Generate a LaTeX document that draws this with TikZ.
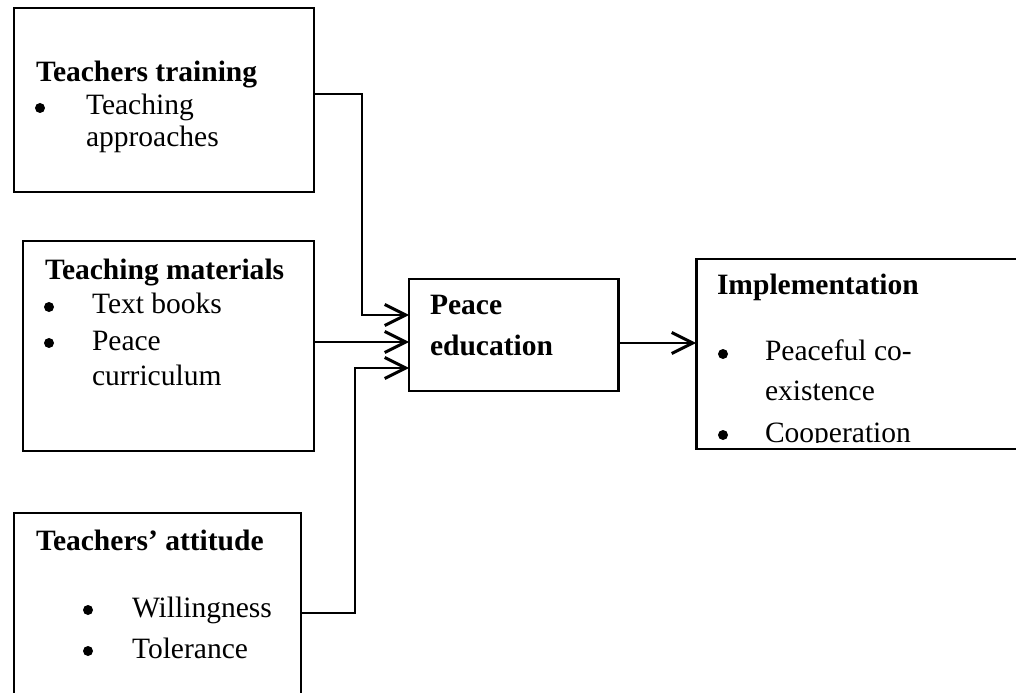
\documentclass[tikz,border=0pt]{standalone}
\usepackage{fontspec}
\setmainfont{Liberation Serif}
\usepackage{tikz}
\usetikzlibrary{arrows.meta, calc}

\tikzset{
    box/.style={draw, line width=0.85pt, inner sep=0pt, outer sep=0pt},
    txt/.style={anchor=base west, inner sep=0pt, outer sep=0pt},
    dot/.style={circle, fill, inner sep=0pt, minimum size=1mm},
    link/.style={line width=0.85pt, -{Straight Barb[length=2.1mm, width=2.1mm, line width=0.85pt]}}
}

\begin{document}
\begin{tikzpicture}[x=1cm, y=-1cm, font=\fontsize{8.4}{9.5}\selectfont]

    \useasboundingbox (0,0) rectangle (10.16,6.93);
    \clip (0,0) rectangle (10.16,6.93);

    % --- Left column of boxes ---
    \node[box, minimum width=3.00cm, minimum height=1.84cm] (train) at (1.64,1.00) {};
    \node[box, minimum width=2.91cm, minimum height=2.10cm] (mater) at (1.685,3.46) {};
    \node[box, minimum width=2.87cm, minimum height=2.20cm] (attit) at (1.575,6.23) {};

    % --- Middle and right boxes ---
    \node[box, minimum width=2.09cm, minimum height=1.12cm] (peace) at (5.135,3.35) {};
    \node[box, minimum width=3.60cm, minimum height=1.90cm] (impl) at (8.76,3.54) {};

    % --- Teachers training ---
    \node[txt] (trainT) at (0.36,0.82) {\textbf{Teachers training}};
    \node[dot] (trainB) at (0.40,1.08) {};
    \node[txt] (trainA) at (0.86,1.15) {Teaching};
    \node[txt] (trainA2) at (0.86,1.47) {approaches};

    % --- Teaching materials ---
    \node[txt] (materT) at (0.45,2.80) {\textbf{Teaching materials}};
    \node[dot] (materB1) at (0.49,3.07) {};
    \node[txt] (materA) at (0.92,3.13) {Text books};
    \node[dot] (materB2) at (0.49,3.43) {};
    \node[txt] (materC) at (0.92,3.50) {Peace};
    \node[txt] (materC2) at (0.92,3.85) {curriculum};

    % --- Teachers' attitude ---
    \node[txt] (attitT) at (0.36,5.50) {\textbf{Teachers’ attitude}};
    \node[dot] (attitB1) at (0.88,6.10) {};
    \node[txt] (attitA) at (1.32,6.17) {Willingness};
    \node[dot] (attitB2) at (0.88,6.51) {};
    \node[txt] (attitC) at (1.32,6.58) {Tolerance};

    % --- Peace education ---
    \node[txt] (peaceT) at (4.30,3.15) {\textbf{Peace}};
    \node[txt] (peaceT2) at (4.30,3.55) {\textbf{education}};

    % --- Implementation (last line cut by the box) ---
    \node[txt] (implT) at (7.17,2.95) {\textbf{Implementation}};
    \begin{scope}
        \clip (impl.north west) rectangle (10.16,4.42);
        \node[dot] (implB1) at (7.23,3.54) {};
        \node[txt] (implA) at (7.65,3.60) {Peaceful co-};
        \node[txt] (implA2) at (7.65,4.00) {existence};
        \node[dot] (implB2) at (7.23,4.35) {};
        \node[txt] (implC) at (7.65,4.42) {Cooperation};
    \end{scope}

    % --- Connectors ---
    \draw[link] (train.east |- 0,0.94) -| (3.62,3.15) -- (peace.west |- 0,3.15);
    \draw[link] (mater.east |- 0,3.42) -- (peace.west |- 0,3.42);
    \draw[link] (attit.east |- 0,6.13) -| (3.55,3.68) -- (peace.west |- 0,3.68);
    \draw[link] (peace.east |- 0,3.43) -- (impl.west |- 0,3.43);

\end{tikzpicture}
\end{document}
